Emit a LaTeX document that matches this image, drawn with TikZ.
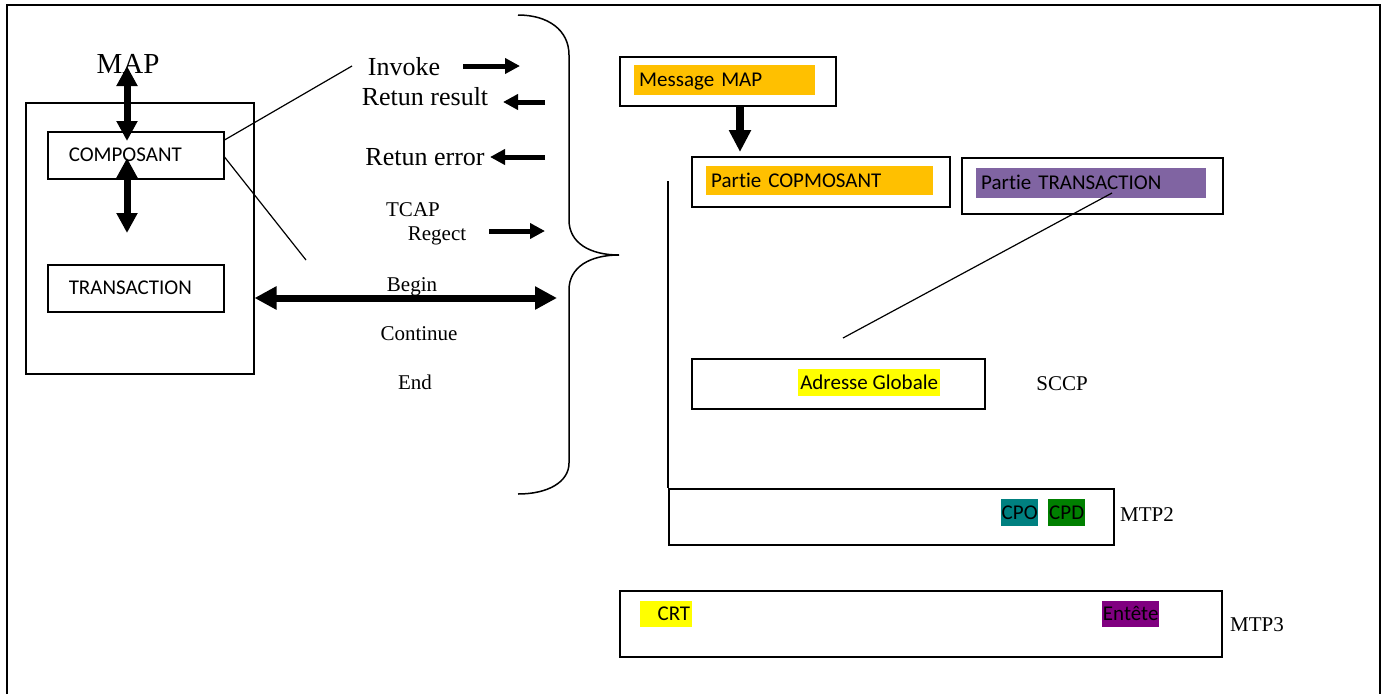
\documentclass[tikz,border=0pt]{standalone}
\usepackage{fontspec}
\setmainfont{Liberation Serif}
\newfontfamily\calibri[Ligatures=NoCommon]{Carlito}
\usetikzlibrary{arrows.meta,calc}

\definecolor{hlorange}{RGB}{255,192,0}
\definecolor{hlpurple}{RGB}{128,100,162}
\definecolor{hlyellow}{RGB}{255,255,0}
\definecolor{hlteal}{RGB}{0,128,128}
\definecolor{hlgreen}{RGB}{0,128,0}
\definecolor{hlviolet}{RGB}{128,0,128}

\tikzset{
  box/.style={draw, line width=1.5pt, anchor=north west, inner sep=0pt},
  tbox/.style={box, inner xsep=21pt, align=left,
    font=\calibri\fontsize{21}{25}\selectfont, text height=15pt, text depth=2pt},
  hl/.style={anchor=north west, inner xsep=5pt, inner ysep=0pt, align=left,
    font=\calibri\fontsize{21}{25}\selectfont, text height=15pt, text depth=2pt},
  hlc/.style={anchor=north west, inner sep=0pt, align=center,
    font=\calibri\fontsize{21}{25}\selectfont, text height=15pt, text depth=2pt},
  serbig/.style={anchor=base, inner sep=0pt, font=\fontsize{29}{33}\selectfont},
  sermid/.style={anchor=base, inner sep=0pt, font=\fontsize{26}{30}\selectfont},
  sersmall/.style={anchor=base, inner sep=0pt, font=\fontsize{21}{25}\selectfont},
  thin/.style={line width=1.2pt},
  opArrow/.style={line width=5pt, -{Triangle[length=15pt,width=15pt]}},
  vdbl/.style={line width=7pt, {Triangle[length=20pt,width=20pt]}-{Triangle[length=20pt,width=20pt]}},
  hdbl/.style={line width=7pt, {Triangle[length=22pt,width=22pt]}-{Triangle[length=22pt,width=22pt]}},
  downArrow/.style={line width=8pt, -{Triangle[length=22pt,width=21pt]}},
}

\begin{document}
\begin{tikzpicture}[x=1pt,y=-1pt]
\useasboundingbox (0,0) rectangle (1386,694);

% outer frame (open at the bottom edge)
\draw[line width=2pt] (7,694) -- (7,5) -- (1380,5) -- (1380,694);

% ---------- MAP / TCAP block ----------
\node[box, minimum width=228pt, minimum height=271pt] (mapbox) at (25,102) {};
\node[tbox, minimum width=176pt, minimum height=47pt, text width=134pt] (comp) at (47,131) {COMPOSANT};
\node[tbox, minimum width=176pt, minimum height=47pt, text width=134pt] (trans) at (47,264) {TRANSACTION};
\node[serbig] (map) at (128,73) {MAP};

\coordinate (mapA) at (127,66);
\coordinate (mapB) at (127,141);
\coordinate (midA) at (127,158);
\coordinate (midB) at (127,233);
\draw[vdbl] (mapA) -- (mapB);
\draw[vdbl] (midA) -- (midB);

% operation labels
\node[sermid] (invoke) at (404,75) {Invoke};
\node[sermid] (result) at (425,105) {Retun result};
\node[sermid] (error) at (425,165) {Retun error};
\node[sersmall] (tcap) at (413,216) {TCAP};
\node[sersmall] (regect) at (437,240) {Regect};
\node[sersmall] (begin) at (412,291) {Begin};
\node[sersmall] (cont) at (419,340) {Continue};
\node[sersmall] (endop) at (415,389) {End};

% component box fanning out to the operations
\coordinate (fanTop) at (352,66);
\coordinate (fanBot) at (306,260);
\draw[thin] ($(comp.north east)+(0,9)$) -- (fanTop);
\draw[thin] ($(comp.north east)+(0,26)$) -- (fanBot);

% operation arrows
\coordinate (invA) at (463,66);  \coordinate (invB) at (520,66);
\coordinate (resA) at (545,102); \coordinate (resB) at (503,102);
\coordinate (errA) at (545,157); \coordinate (errB) at (490,157);
\coordinate (regA) at (489,231); \coordinate (regB) at (545,231);
\draw[opArrow] (invA) -- (invB);
\draw[opArrow] (resA) -- (resB);
\draw[opArrow] (errA) -- (errB);
\draw[opArrow] (regA) -- (regB);

% transaction dialogue arrow
\coordinate (dlg) at (557,298);
\draw[hdbl] (mapbox.east |- dlg) -- (dlg);

% curly brace
\draw[line width=1.5pt]
  (518,15) .. controls (548,15) and (569,30) .. (569,55)
  -- (569,220) .. controls (569,243) and (590,255) .. (619,255)
  .. controls (590,255) and (569,267) .. (569,290)
  -- (569,463) .. controls (569,482) and (548,494) .. (518,494);

% ---------- message structure ----------
\node[box, minimum width=216pt, minimum height=49pt] (msgbox) at (619,56) {};
\node[hl, fill=hlorange, minimum width=181pt, minimum height=30pt, text width=171pt] (msg) at (634,65) {Message MAP};

\node[box, minimum width=258pt, minimum height=50pt] (pcompbox) at (691,156) {};
\node[hl, fill=hlorange, minimum width=227pt, minimum height=29pt, text width=217pt] (pcomp) at (706,166) {Partie COPMOSANT};

\node[box, minimum width=261pt, minimum height=56pt] (ptransbox) at (961,157) {};
\node[hl, fill=hlpurple, minimum width=230pt, minimum height=30pt, text width=220pt] (ptrans) at (976,168) {Partie TRANSACTION};

\draw[downArrow] ($(msgbox.south west)+(121,0)$) -- ($(pcompbox.north west)+(49,-4)$);

\node[box, minimum width=293pt, minimum height=50pt] (sccpbox) at (691,358) {};
\node[hlc, fill=hlyellow, minimum width=142pt, minimum height=27pt] (gt) at (798,369) {Adresse Globale};
\node[sersmall] (sccp) at (1062,390) {SCCP};

\coordinate (trTail) at (843,338);
\draw[thin] ($(ptrans.north west)+(136,25)$) -- (trTail);

\node[box, minimum width=445pt, minimum height=56pt] (mtp2box) at (668,488) {};
\node[hlc, fill=hlteal, minimum width=37pt, minimum height=27pt] (cpo) at (1001,499) {CPO};
\node[hlc, fill=hlgreen, minimum width=37pt, minimum height=27pt] (cpd) at (1048,499) {CPD};
\node[sersmall] (mtp2) at (1147,521) {MTP2};

\coordinate (stackTop) at (668,181);
\draw[line width=1.5pt] (stackTop) -- (mtp2box.north west);

\node[box, minimum width=602pt, minimum height=66pt] (mtp3box) at (619,590) {};
\node[hl, fill=hlyellow, inner xsep=2pt, align=right, minimum width=52pt, minimum height=26pt, text width=48pt] (crt) at (640,601) {CRT};
\node[hlc, fill=hlviolet, minimum width=57pt, minimum height=26pt] (hdr) at (1102,601) {Entête};
\node[sersmall] (mtp3) at (1257,631) {MTP3};

\end{tikzpicture}
\end{document}
